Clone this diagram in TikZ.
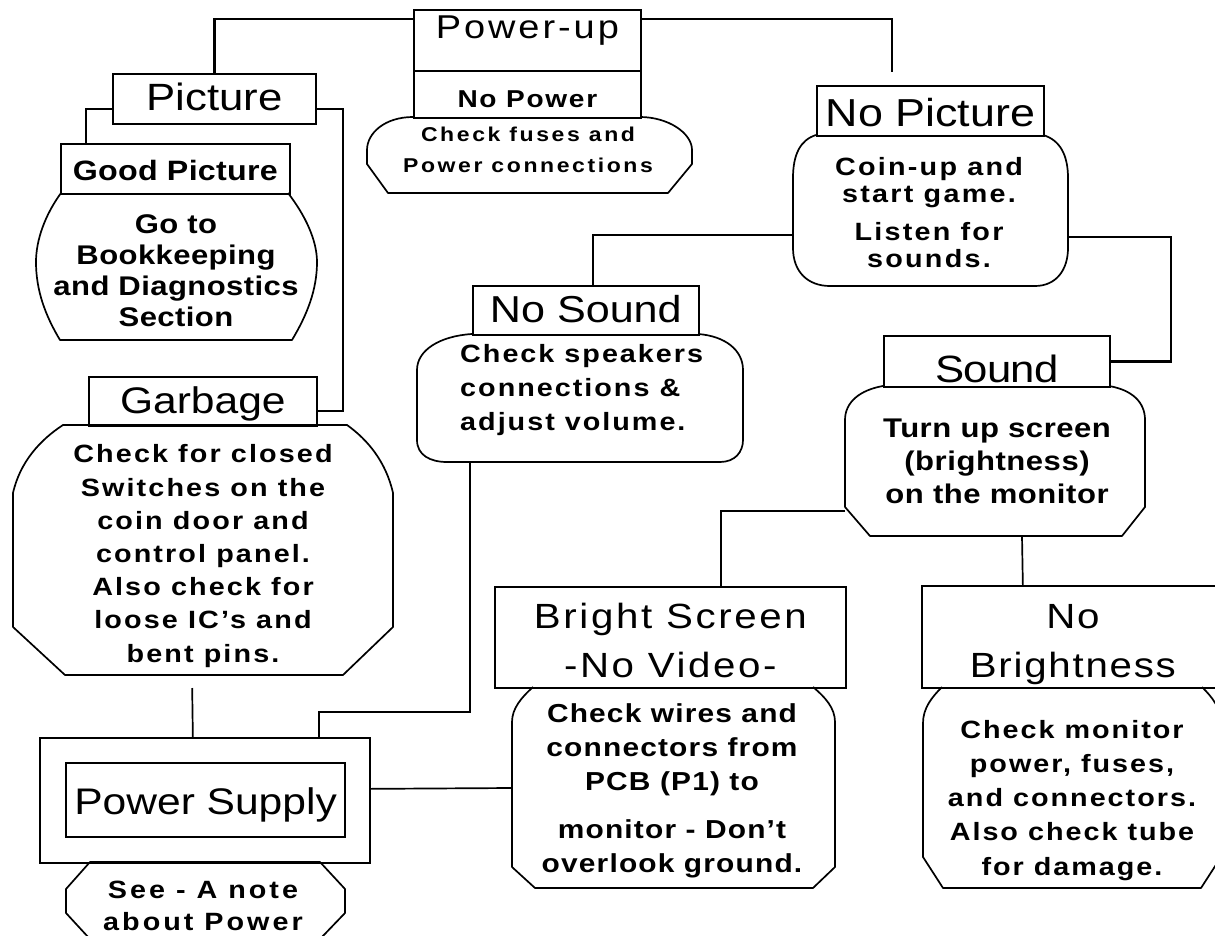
\documentclass[tikz,border=0pt]{standalone}
\usepackage{fontspec}
\setmainfont{Liberation Sans}[FakeStretch=1.15]
\newcommand\myfnt[3]{\fontsize{#1}{#2}\selectfont\addfontfeatures{LetterSpace=#3}}
\tikzset{
  box/.style={draw, rectangle, line width=1.7pt, inner sep=0pt, anchor=north west},
  txt/.style={inner sep=0pt, anchor=base},
  conn/.style={line width=1.7pt},
  bub/.style={line width=1.7pt, line join=round}
}
\begin{document}
\begin{tikzpicture}[x=1pt,y=-1pt]
\path[fill=white] (0,0) rectangle (1215,936);
\useasboundingbox (0,0) rectangle (1215,936);

% ---------- boxes ----------
\node[box, minimum width=227pt, text height=29pt, text depth=32pt, font=\myfnt{33}{38}{9}] (pu) at (413,9) {Power-up};
\node[box, minimum width=227pt, text height=37pt, text depth=10pt, font=\bfseries\myfnt{24.4}{29}{7}] (np) at (413,70) {No Power};
\node[box, minimum width=203pt, text height=37pt, text depth=13pt, font=\myfnt{38}{45}{0}] (pic) at (112,73) {Picture};
\node[box, minimum width=229pt, text height=37pt, text depth=13pt, font=\bfseries\myfnt{28}{33}{1}] (gp) at (60,143) {Good Picture};
\node[box, minimum width=227pt, text height=41pt, text depth=9pt, font=\myfnt{39}{46}{0}] (npic) at (816,85) {No Picture};
\node[box, minimum width=228pt, text height=37pt, text depth=12pt, font=\myfnt{37}{44}{0}] (garb) at (88,376) {Garbage};
\node[box, minimum width=226pt, text height=37pt, text depth=12pt, font=\myfnt{37.5}{44}{0}] (ns) at (472,285) {No Sound};
\node[box, minimum width=226pt, text height=47pt, text depth=4pt, font=\myfnt{38}{45}{-2}] (snd) at (883,335) {Sound};
\node[box, minimum width=330pt, minimum height=125pt] (psout) at (39,737) {};
\node[box, line width=2.2pt, minimum width=279pt, text height=51pt, text depth=23pt, font=\myfnt{37}{44}{0}] (ps) at (65,762) {Power Supply};
\node[box, minimum width=351pt, text height=91pt, text depth=10pt, font=\myfnt{35}{49}{7.5}] (bs) at (494,586) {\begin{tabular}[b]{@{}c@{}}Bright Screen\\-No Video-\end{tabular}};
\node[box, minimum width=302pt, text height=92pt, text depth=10pt, font=\myfnt{35}{49}{5}] (nb) at (921,585) {\begin{tabular}[b]{@{}c@{}}No\\Brightness\end{tabular}};

% ---------- bubbles ----------
\draw[bub] (413,117) .. controls (385,117) and (367,133) .. (367,150) -- (367,164) -- (388,193) -- (668,193) -- (692,164) -- (692,150) .. controls (692,133) and (668,117) .. (640,117);
\node[txt, font=\bfseries\myfnt{20}{31}{13}] (fusesT) at (528,173) {\begin{tabular}[b]{@{}c@{}}Check fuses and\\Power connections\end{tabular}};

\draw[bub] (61,193) .. controls (45,215) and (36,240) .. (36,262) .. controls (36,290) and (45,315) .. (60,340) -- (292,340) .. controls (307,315) and (317,290) .. (317,262) .. controls (317,240) and (305,215) .. (288,193);
\node[txt, font=\bfseries\myfnt{27}{31}{1.5}] (gpT) at (176,326) {\begin{tabular}[b]{@{}c@{}}Go to\\Bookkeeping\\and Diagnostics\\Section\end{tabular}};

\draw[bub] (816,135) .. controls (800,140) and (793,155) .. (793,178) -- (793,248) .. controls (793,272) and (808,286) .. (830,286) -- (1035,286) .. controls (1056,286) and (1068,270) .. (1068,248) -- (1068,178) .. controls (1068,155) and (1060,140) .. (1043,135);
\node[txt, font=\bfseries\myfnt{25}{27}{9}] (npT) at (929,267) {\begin{tabular}[b]{@{}c@{}}Coin-up and\\start game.\\[11pt]Listen for\\sounds.\end{tabular}};

\draw[bub] (63,425) .. controls (40,440) and (20,462) .. (13,493) -- (13,627) -- (65,675) -- (343,675) -- (393,627) -- (393,493) .. controls (386,462) and (368,440) .. (347,425) -- cycle;
\node[txt, font=\bfseries\myfnt{25}{33.2}{8.5}] (garbT) at (203,662) {\begin{tabular}[b]{@{}c@{}}Check for closed\\Switches on the\\coin door and\\control panel.\\Also check for\\loose IC's and\\bent pins.\end{tabular}};

\draw[bub] (472,334) .. controls (440,336) and (417,350) .. (417,370) -- (417,440) .. controls (417,455) and (430,462) .. (447,462) -- (720,462) .. controls (735,462) and (743,452) .. (743,440) -- (743,370) .. controls (743,350) and (725,336) .. (698,334);
\node[txt, anchor=base west, font=\bfseries\myfnt{25}{34}{8}] (nsT) at (460,430) {\begin{tabular}[b]{@{}l@{}}Check speakers\\connections \&\\adjust volume.\end{tabular}};

\draw[bub] (883,386) .. controls (860,390) and (845,402) .. (845,420) -- (845,507) -- (870,536) -- (1122,536) -- (1145,507) -- (1145,420) .. controls (1145,402) and (1132,390) .. (1109,386);
\node[txt, font=\bfseries\myfnt{27}{33}{2}] (sndT) at (997,503) {\begin{tabular}[b]{@{}c@{}}Turn up screen\\(brightness)\\on the monitor\end{tabular}};

\draw[bub] (533,687) .. controls (522,697) and (512,708) .. (512,722) -- (512,867) -- (535,888) -- (813,888) -- (835,867) -- (835,722) .. controls (835,708) and (825,697) .. (813,687);
\node[txt, font=\bfseries\myfnt{26}{34}{4.5}] (bsT) at (672,872) {\begin{tabular}[b]{@{}c@{}}Check wires and\\connectors from\\PCB (P1) to\\[14pt]monitor - Don't\\overlook ground.\end{tabular}};

\draw[bub] (942,687) .. controls (932,697) and (923,708) .. (923,723) -- (923,857) -- (943,888) -- (1201,888) -- (1221,857) -- (1221,723) .. controls (1221,708) and (1212,697) .. (1202,687);
\node[txt, font=\bfseries\myfnt{25}{34.25}{8}] (nbT) at (1072,875) {\begin{tabular}[b]{@{}c@{}}Check monitor\\power, fuses,\\and connectors.\\Also check tube\\for damage.\end{tabular}};

\draw[bub] (90,862) -- (320,862) -- (345,889) -- (345,913) -- (321,938) -- (89,938) -- (66,913) -- (66,889) -- cycle;
\node[txt, font=\bfseries\myfnt{25}{32}{12}] (psT) at (203,930) {\begin{tabular}[b]{@{}c@{}}See - A note\\about Power\end{tabular}};

% ---------- connection points on bubble outlines ----------
\coordinate (npL) at (793,235);
\coordinate (npR) at (1068,237);
\coordinate (sL) at (845,511);
\coordinate (sB) at (1022,536);
\coordinate (nsB) at (470,462);
\coordinate (gB) at (192,675);
\coordinate (bbL) at (512,788);

% ---------- connectors ----------
\draw[conn, line width=2.4pt] ([yshift=-10pt]pu.north west) -| (pic.north);
\draw[conn, shorten >=13pt] ([yshift=-10pt]pu.north east) -| ([xshift=-38.5pt]npic.north);
\draw[conn] ([yshift=-10pt]pic.west) -| ([xshift=-89.5pt]gp.north);
\draw[conn] ([yshift=-10pt]pic.east) -- ++(26,0) |- ([yshift=-9.5pt]garb.east);
\draw[conn] (npL) -| ([xshift=7pt]ns.north);
\draw[conn, line width=2.4pt] (npR) -- ++(103,0) |- (snd.east);
\draw[conn] (sL) -| ([xshift=50.5pt]bs.north);
\draw[conn] (sB) -- ([xshift=-50pt]nb.north);
\draw[conn] (nsB) -- ++(0,250) -| ([xshift=114pt]psout.north);
\draw[conn, shorten <=13pt] (gB) -- ([xshift=-12pt]psout.north);
\draw[conn] ([yshift=11.5pt]psout.east) -- (bbL);
\end{tikzpicture}
\end{document}
